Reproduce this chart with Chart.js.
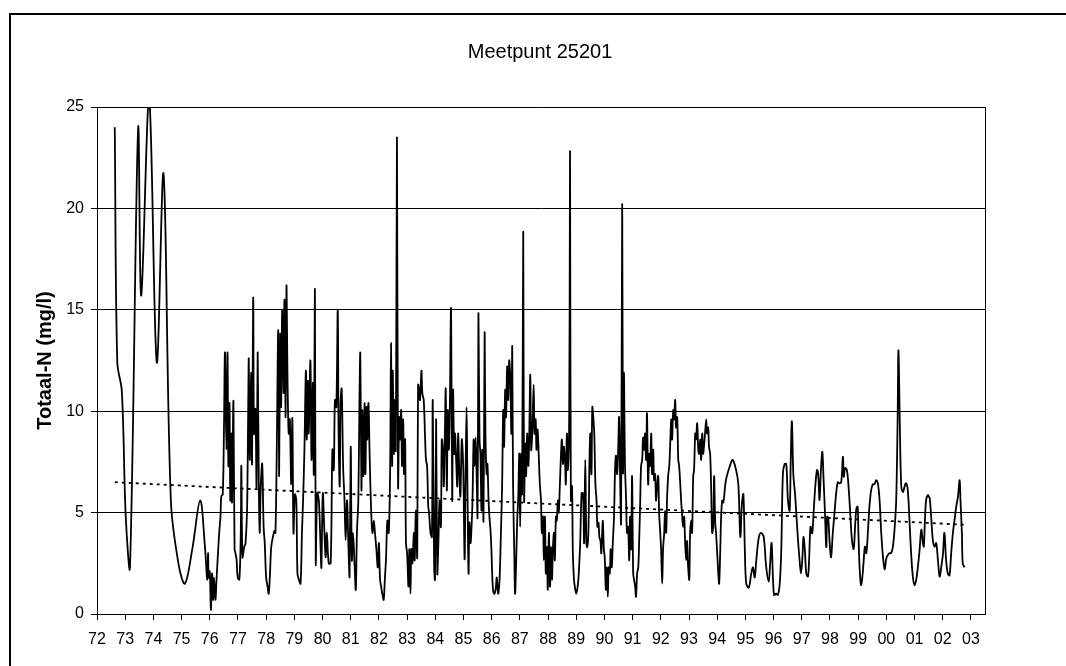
<!DOCTYPE html>
<html>
<head>
<meta charset="utf-8">
<script src="https://cdn.jsdelivr.net/npm/chart.js@4.4.1/dist/chart.umd.min.js"></script>
<style>
html,body{margin:0;padding:0;background:#fff;}
canvas{display:block;}
</style>
</head>
<body>
<canvas id="c" width="1066" height="666"></canvas>
<script>
// x positions are decimal years counted from 1900 (72.5 = mid 1972, 100.5 = mid 2000)
const yearTicks  = [72,73,74,75,76,77,78,79,80,81,82,83,84,85,86,87,88,89,90,91,92,93,94,95,96,97,98,99,100,101,102,103];
const yearLabels = ['72','73','74','75','76','77','78','79','80','81','82','83','84','85','86','87','88','89','90','91','92','93','94','95','96','97','98','99','00','01','02','03'];
const valueTicks = [0,5,10,15,20,25];

const sampleYears = [
72.63,72.72,72.88,73.02,73.17,73.46,73.57,73.85,74.12,74.36,74.62,74.90,75.12,75.38,75.66,75.83,75.91,75.94,75.96,
76.00,76.04,76.08,76.12,76.15,76.20,76.24,76.30,76.34,76.38,76.41,76.46,76.50,76.54,76.59,76.63,76.66,76.70,76.73,76.77,76.79,76.84,76.88,76.91,76.95,76.99,
77.05,77.10,77.12,77.16,77.22,77.27,77.33,77.38,77.42,77.47,77.50,77.54,77.57,77.62,77.66,77.70,77.74,77.77,77.81,77.86,77.91,77.95,
78.00,78.05,78.09,78.13,78.18,78.24,78.30,78.33,78.37,78.43,78.46,78.50,78.53,78.57,78.62,78.65,78.69,78.72,78.76,78.80,78.84,78.89,78.93,78.97,
79.02,79.07,79.11,79.16,79.22,79.27,79.31,79.36,79.41,79.44,79.48,79.51,79.57,79.61,79.66,79.69,79.73,79.76,79.81,79.87,79.93,79.96,
80.01,80.06,80.11,80.15,80.22,80.29,80.35,80.40,80.44,80.49,80.54,80.57,80.61,80.64,80.68,80.73,80.78,80.82,80.87,80.92,80.96,
81.00,81.04,81.08,81.13,81.18,81.22,81.27,81.31,81.34,81.38,81.41,81.45,81.49,81.52,81.56,81.59,81.63,81.67,81.72,81.77,81.82,81.86,81.91,81.96,
82.00,82.04,82.08,82.12,82.17,82.21,82.25,82.30,82.35,82.40,82.43,82.47,82.49,82.53,82.56,82.60,82.64,82.68,82.72,82.75,82.79,82.82,82.86,82.89,82.93,82.96,
83.00,83.05,83.08,83.12,83.15,83.19,83.24,83.27,83.31,83.36,83.39,83.43,83.46,83.51,83.54,83.59,83.64,83.67,83.71,83.75,83.78,83.83,83.88,83.91,83.96,83.99,
84.03,84.07,84.11,84.15,84.20,84.23,84.27,84.30,84.34,84.37,84.41,84.44,84.48,84.51,84.56,84.60,84.63,84.67,84.70,84.74,84.78,84.81,84.85,84.89,84.94,84.99,
85.04,85.07,85.11,85.14,85.18,85.21,85.25,85.28,85.32,85.36,85.39,85.43,85.46,85.50,85.53,85.57,85.60,85.64,85.67,85.71,85.75,85.78,85.82,85.85,85.89,85.92,85.96,85.99,
86.04,86.09,86.14,86.18,86.23,86.28,86.33,86.37,86.41,86.44,86.48,86.51,86.55,86.59,86.62,86.66,86.70,86.73,86.76,86.80,86.83,86.87,86.91,86.94,86.98,
87.01,87.05,87.08,87.12,87.15,87.19,87.22,87.26,87.30,87.33,87.37,87.40,87.44,87.49,87.52,87.56,87.59,87.63,87.67,87.71,87.75,87.78,87.82,87.85,87.89,87.92,87.96,87.99,
88.03,88.07,88.10,88.14,88.17,88.21,88.24,88.28,88.31,88.35,88.38,88.42,88.46,88.49,88.53,88.56,88.60,88.63,88.67,88.70,88.75,88.78,88.81,88.85,88.88,88.92,88.95,
89.00,89.05,89.09,89.14,89.19,89.24,89.28,89.32,89.36,89.39,89.43,89.47,89.50,89.54,89.57,89.61,89.64,89.68,89.72,89.75,89.79,89.82,89.86,89.89,89.94,89.98,
90.01,90.05,90.08,90.12,90.15,90.19,90.22,90.26,90.30,90.34,90.38,90.41,90.45,90.49,90.52,90.56,90.59,90.63,90.66,90.69,90.73,90.77,90.80,90.84,90.88,90.91,90.95,90.98,
91.02,91.05,91.09,91.12,91.16,91.20,91.23,91.27,91.30,91.34,91.37,91.41,91.44,91.48,91.51,91.55,91.59,91.62,91.66,91.69,91.73,91.76,91.80,91.83,91.87,91.91,91.94,91.98,
92.01,92.05,92.08,92.12,92.15,92.19,92.22,92.26,92.30,92.33,92.37,92.40,92.44,92.47,92.51,92.54,92.58,92.62,92.65,92.69,92.72,92.76,92.79,92.83,92.86,92.90,92.93,92.97,
93.01,93.04,93.08,93.11,93.15,93.18,93.22,93.25,93.29,93.33,93.36,93.40,93.43,93.47,93.50,93.54,93.57,93.61,93.64,93.68,93.71,93.75,93.79,93.82,93.86,93.89,93.93,93.96,
94.00,94.04,94.07,94.11,94.14,94.18,94.22,94.31,94.45,94.55,94.67,94.75,94.82,94.88,94.93,94.98,
95.03,95.12,95.21,95.27,95.33,95.39,95.48,95.56,95.65,95.74,95.83,95.87,95.93,95.98,
96.02,96.09,96.15,96.21,96.27,96.33,96.39,96.45,96.51,96.57,96.61,96.65,96.70,96.76,96.80,96.86,96.92,96.97,
97.02,97.06,97.11,97.16,97.22,97.26,97.31,97.37,97.42,97.48,97.54,97.58,97.63,97.68,97.73,97.77,97.82,97.87,97.90,97.94,97.99,
98.04,98.10,98.16,98.22,98.28,98.34,98.40,98.46,98.49,98.54,98.60,98.66,98.72,98.78,98.84,98.88,98.93,98.98,
99.01,99.05,99.10,99.14,99.19,99.24,99.29,99.35,99.40,99.46,99.52,99.58,99.64,99.70,99.76,99.82,99.88,99.94,
100.00,100.05,100.11,100.17,100.23,100.29,100.35,100.40,100.43,100.48,100.53,100.59,100.65,100.70,100.76,100.82,100.88,100.94,
101.00,101.06,101.12,101.18,101.24,101.30,101.33,101.37,101.41,101.47,101.51,101.54,101.59,101.65,101.71,101.77,101.83,101.89,101.95,
102.01,102.06,102.12,102.18,102.24,102.30,102.36,102.42,102.48,102.54,102.60,102.63,102.68,102.71,102.77
];

const totaalN = [
24.0,12.4,11.0,4.8,2.3,24.0,15.7,25.4,12.4,21.7,5.6,2.4,1.5,3.2,5.6,3.3,1.7,3.0,1.8,
2.1,0.2,2.0,0.7,1.8,0.7,1.7,3.2,4.1,4.8,5.8,5.9,8.7,12.9,8.1,12.9,7.3,10.4,5.6,8.9,5.5,10.5,3.2,3.0,2.7,1.8,
1.7,4.0,7.3,2.8,3.3,3.5,5.6,12.6,7.6,11.9,7.4,15.6,8.9,10.1,6.2,12.9,6.4,4.0,6.3,7.4,4.3,3.5,
1.8,1.35,1.0,1.8,3.3,3.8,4.1,4.0,7.3,14.0,6.8,13.8,10.2,15.0,10.9,15.5,9.7,16.2,11.5,8.9,9.6,6.4,9.65,4.0,
5.9,5.6,2.0,1.7,1.5,4.0,5.6,8.25,12.0,8.6,11.5,8.9,12.5,7.6,11.4,6.9,16.0,2.5,5.95,5.6,3.3,2.3,
5.95,4.3,2.8,4.0,2.5,2.5,8.1,7.1,10.55,10.2,15.0,8.9,6.3,10.4,11.1,7.3,5.6,3.65,5.6,3.3,1.85,
8.25,2.65,4.0,2.65,1.2,4.0,5.6,10.55,12.85,6.1,10.05,6.8,10.4,6.9,10.2,8.6,10.4,7.9,5.3,4.0,4.6,4.0,3.2,2.3,
3.5,1.7,1.35,1.0,0.7,1.7,2.65,4.6,4.0,7.3,13.35,7.3,12.0,7.9,10.55,8.1,23.5,6.3,9.7,8.6,10.05,7.3,9.6,6.9,8.6,3.5,
3.0,1.35,3.2,1.0,3.2,2.5,4.0,2.65,5.1,2.8,11.3,11.05,10.55,12.0,10.9,10.55,8.6,7.6,7.3,5.3,5.0,4.0,3.8,10.55,2.3,1.7,
9.6,2.0,3.5,5.6,4.3,8.6,8.1,6.3,8.9,11.1,6.1,10.05,8.1,9.6,15.05,5.6,11.05,7.9,8.9,7.6,6.3,8.9,7.1,5.8,8.6,7.3,
2.7,6.4,10.2,6.4,2.0,4.5,3.5,4.1,5.6,8.6,7.3,8.7,7.3,4.8,14.8,8.6,7.9,5.1,8.1,4.6,13.85,8.9,6.9,7.4,5.6,4.8,4.1,3.2,
1.35,1.0,1.2,1.8,1.0,1.7,4.1,6.3,10.05,8.25,11.05,9.7,12.2,10.55,12.5,11.7,8.9,13.2,6.3,3.2,1.0,2.65,4.8,5.6,7.9,
4.3,7.9,5.95,18.85,5.6,8.4,6.8,8.9,7.3,8.6,11.8,8.1,8.9,11.3,8.9,9.6,8.1,9.1,7.8,6.4,5.6,4.0,4.8,2.65,4.8,2.0,3.3,1.2,
4.0,1.35,3.3,1.7,3.2,4.0,2.65,4.8,4.6,5.6,5.0,6.4,7.9,8.6,7.4,8.25,7.6,6.4,8.9,7.1,9.6,22.8,5.6,6.3,3.0,1.7,1.35,
1.0,1.35,2.0,3.5,5.95,5.95,3.5,7.6,3.5,3.3,4.0,7.6,8.9,6.9,10.2,9.6,8.9,6.4,5.6,4.3,4.5,3.8,3.6,3.0,4.6,3.2,
2.8,1.2,2.3,0.85,2.3,2.0,3.2,2.3,3.6,4.8,7.3,7.8,6.9,8.25,9.7,6.4,4.5,20.2,7.0,11.9,7.3,5.6,4.0,4.3,2.65,4.8,3.2,6.8,
2.0,1.7,1.35,0.85,2.0,2.3,3.5,5.6,7.3,7.6,8.7,8.1,8.9,7.6,9.9,6.4,7.9,7.3,8.9,6.9,8.1,6.6,6.9,5.6,6.3,6.8,5.0,4.0,
3.2,1.5,3.2,4.0,5.1,4.0,5.6,6.8,7.3,8.25,9.6,8.6,10.05,9.6,10.55,9.2,9.7,7.6,7.3,6.4,5.6,4.8,4.3,4.8,3.6,2.65,3.6,2.3,
1.7,4.0,4.6,4.0,6.8,7.1,8.9,8.6,9.4,8.1,7.9,8.6,7.6,8.9,7.9,8.4,8.9,9.6,8.9,9.2,8.25,7.9,5.95,4.0,4.3,6.8,4.5,4.0,
3.0,2.0,1.5,3.2,4.8,5.6,5.5,6.6,7.3,7.6,7.1,6.4,3.8,5.5,5.9,3.2,
1.5,1.3,2.0,2.3,1.8,2.7,3.8,4.0,3.8,2.3,1.6,2.3,3.5,1.7,
0.94,1.0,0.94,1.35,3.0,6.9,7.4,7.4,5.6,5.1,7.6,9.5,6.9,5.95,5.1,3.8,2.7,2.0,
2.7,3.8,3.15,2.0,1.85,2.66,4.3,3.98,5.0,6.3,7.1,6.94,5.62,7.1,8.0,6.77,5.1,3.3,4.8,4.7,3.5,
2.8,3.98,4.96,5.95,6.5,6.44,6.5,7.75,6.77,7.2,7.1,6.28,4.96,3.65,3.2,3.98,5.13,5.3,
3.98,2.33,1.43,1.68,2.5,3.32,3.0,4.14,5.29,6.1,6.4,6.4,6.6,6.44,5.62,3.98,2.83,2.2,
2.75,2.9,3.0,3.0,3.3,4.14,5.62,9.57,13.0,9.24,6.3,6.0,6.3,6.45,6.11,4.64,2.99,1.85,
1.43,1.68,2.33,3.16,4.15,3.48,3.32,4.64,5.6,5.86,5.78,5.7,4.8,3.65,3.32,3.5,2.66,1.85,2.33,
2.99,4.0,2.66,2.0,1.9,2.99,3.98,4.64,5.3,5.78,6.6,5.62,3.98,2.5,2.3
];

const trendYears  = [72.63, 102.8];
const trendValues = [6.5, 4.4];

const FONT = "'Liberation Sans', Arial, Helvetica, sans-serif";
Chart.defaults.font.family = FONT;
Chart.defaults.color = '#000';

const seriesPoints = sampleYears.map((x, i) => ({x: x, y: totaalN[i]}));
const trendPoints = trendYears.map((x, i) => ({x: x, y: trendValues[i]}));

const framePlugin = {
  id: 'outerFrame',
  beforeDraw(chart) {
    const ctx = chart.ctx;
    ctx.save();
    ctx.fillStyle = '#fff';
    ctx.fillRect(0, 0, chart.width, chart.height);
    ctx.fillStyle = '#000';
    ctx.fillRect(9, 13, 2, chart.height - 13);
    ctx.fillRect(9, 13, chart.width - 9, 2);
    ctx.restore();
  }
};

new Chart(document.getElementById('c'), {
  type: 'line',
  data: {
    datasets: [
      {
        label: 'trend',
        data: trendPoints,
        borderColor: '#000',
        borderWidth: 1.8,
        borderDash: [3, 4],
        pointRadius: 0,
        tension: 0,
        fill: false
      },
      {
        label: 'Totaal-N',
        data: seriesPoints,
        borderColor: '#000',
        borderWidth: 1.8,
        pointRadius: 0,
        tension: 0.35,
        fill: false
      }
    ]
  },
  options: {
    responsive: false,
    animation: false,
    devicePixelRatio: 1,
    layout: { padding: { left: 14, top: 14, right: 0, bottom: 0 } },
    plugins: {
      legend: { display: false },
      tooltip: { enabled: false },
      title: {
        display: true,
        text: 'Meetpunt 25201',
        color: '#000',
        font: { family: FONT, size: 20, weight: 'normal' },
        padding: { top: 26, bottom: 43 }
      }
    },
    scales: {
      x: {
        type: 'linear',
        position: 'bottom',
        min: 72,
        max: 103.5,
        afterBuildTicks: (s) => { s.ticks = yearTicks.map(v => ({ value: v })); },
        afterFit: (s) => { s.height = 52; },
        ticks: {
          autoSkip: false,
          maxRotation: 0,
          padding: 10,
          color: '#000',
          font: { family: FONT, size: 16 },
          callback: (v) => yearLabels[yearTicks.indexOf(v)]
        },
        grid: { drawOnChartArea: false, drawTicks: true, tickLength: 6, color: '#000', lineWidth: 1 },
        border: { display: true, color: '#000', width: 1 }
      },
      y: {
        position: 'left',
        min: 0,
        max: 25,
        afterBuildTicks: (s) => { s.ticks = valueTicks.map(v => ({ value: v })); },
        afterFit: (s) => { s.width = 83; },
        ticks: {
          padding: 7,
          color: '#000',
          font: { family: FONT, size: 16 }
        },
        grid: { color: '#000', lineWidth: 1, tickLength: 6, drawTicks: true },
        border: { display: true, color: '#000', width: 1 },
        title: {
          display: true,
          text: 'Totaal-N (mg/l)',
          color: '#000',
          font: { family: FONT, size: 20, weight: 'bold' },
          padding: { top: 19, bottom: 0 }
        }
      },
      y2: {
        position: 'right',
        min: 0,
        max: 25,
        afterFit: (s) => { s.width = 81; },
        ticks: { display: false },
        grid: { display: false, drawTicks: false },
        border: { display: true, color: '#000', width: 1 }
      }
    }
  },
  plugins: [framePlugin]
});
</script>
</body>
</html>
